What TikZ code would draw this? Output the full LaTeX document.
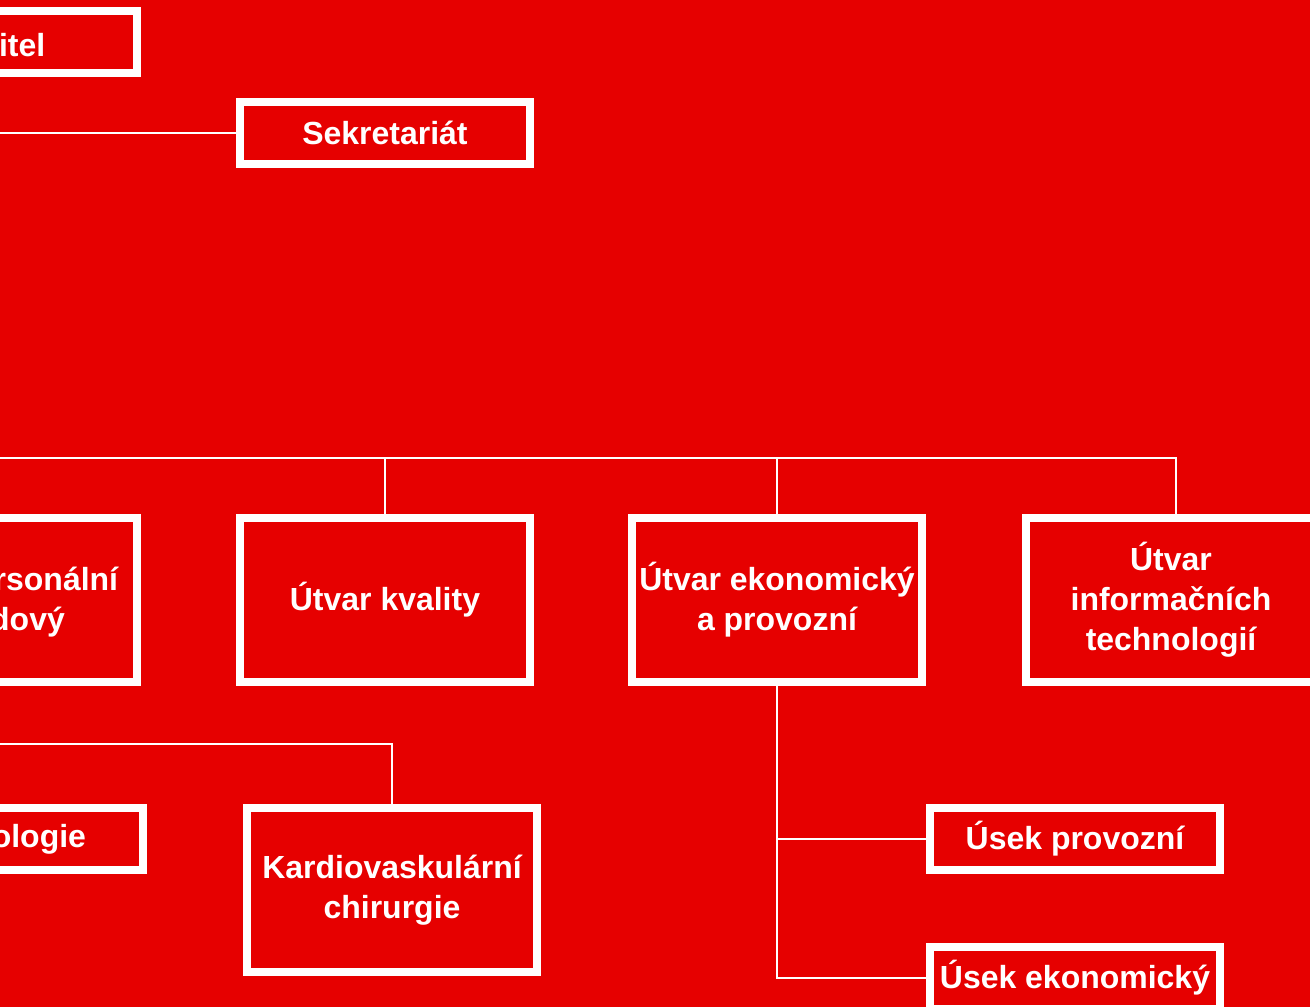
\documentclass[tikz,border=0pt]{standalone}
\usepackage{fontspec}
\setmainfont{Liberation Sans}
\usepackage{xcolor}
\usepackage{tikz}
\usetikzlibrary{positioning,calc}

\definecolor{bgred}{RGB}{230,0,0}

\begin{document}
\begin{tikzpicture}[
x=0.02cm, y=-0.02cm,
unit/.style={draw=white, line width=0.16cm, fill=bgred, text=white, inner sep=0pt,
  minimum width=5.8cm, align=center,
  font=\fontsize{18.2}{22.8}\selectfont\bfseries},
flat/.style={unit, minimum height=1.24cm},
tall/.style={unit, minimum height=3.28cm},
link/.style={draw=white, line width=0.05cm}
]
\useasboundingbox (0,0) rectangle (1310,1007);
\clip (0,0) rectangle (1310,1007);
\fill[bgred] (0,0) rectangle (1310,1007);

% top
\node[flat] (reditel) at (-8,42) {Ředitel};
\node[flat] (sekr) at (385,133) {Sekretariát};

% units
\node[tall] (personal) at (-8,600) {Útvar personální\\a mzdový};
\node[tall] (kvalita) at (385,600) {Útvar kvality};
\node[tall] (ekon) at (777,600) {Útvar ekonomický\\a provozní};
\node[tall] (it) at (1171,600) {Útvar\\informačních\\technologií};

% clinics
\node[flat] (kardiologie) at (-2,839) {Kardiologie};
\node[tall] (kardio) at (392,890) {Kardiovaskulární\\chirurgie};

% sections
\node[flat] (provoz) at (1075,839) {Úsek provozní};
\node[flat] (usekekon) at (1075,978) {Úsek ekonomický};

\coordinate (itstem) at ($(it.north)+(5,0)$);
\coordinate (bus) at ($(itstem)+(0,-56)$);
\coordinate (kbus) at ($(kardio.north)+(0,-60)$);

\draw[link] (reditel.south) |- (sekr.west);
\draw[link] (reditel.south) |- (bus) -- (itstem);
\draw[link] (personal.north) -- (personal.north |- bus);
\draw[link] (kvalita.north) -- (kvalita.north |- bus);
\draw[link] (ekon.north) -- (ekon.north |- bus);
\draw[link] (reditel.south) |- (kbus) -- (kardio.north);
\draw[link] (kardiologie.north) -- (kardiologie.north |- kbus);
\draw[link] (ekon.south) |- (provoz.west);
\draw[link] (ekon.south) |- (usekekon.west);
\end{tikzpicture}
\end{document}
